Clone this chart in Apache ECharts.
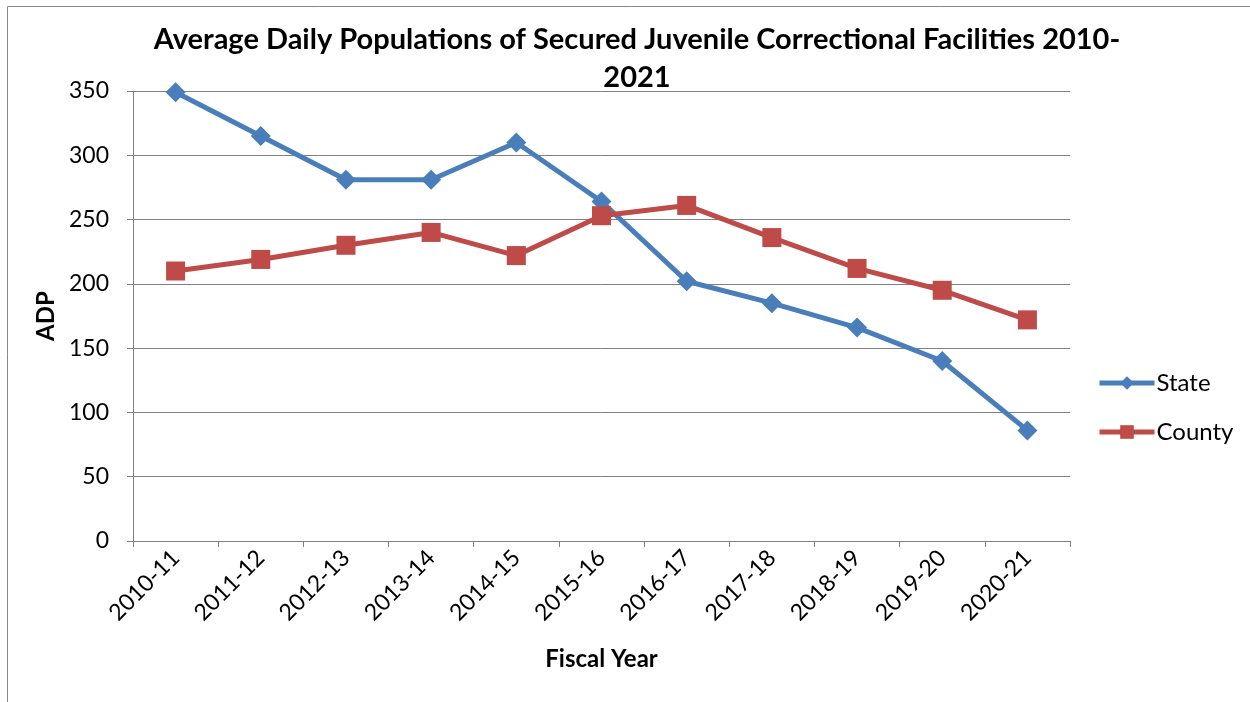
<!DOCTYPE html>
<html>
<head>
<meta charset="utf-8">
<script src="https://cdn.jsdelivr.net/npm/echarts@6/dist/echarts.min.js"></script>
<style>
html,body{margin:0;padding:0;background:#fff;}
#chart{width:1250px;height:702px;}
</style>
</head>
<body>
<div id="chart"></div>
<script>
const categories = ['2010-11','2011-12','2012-13','2013-14','2014-15','2015-16','2016-17','2017-18','2018-19','2019-20','2020-21'];
const stateValues = [349, 315, 281, 281, 310, 264, 202, 185, 166, 140, 86];
const countyValues = [210, 219, 230, 240, 222, 253, 261, 236, 212, 195, 172];
const yTicks = [0, 50, 100, 150, 200, 250, 300, 350];

const FONT = 'Lato';
const chart = echarts.init(document.getElementById('chart'));
chart.setOption({
  animation: false,
  backgroundColor: '#fff',
  textStyle: { fontFamily: FONT },
  graphic: [{
    type: 'rect', shape: { x: 7.5, y: 6.5, width: 1400, height: 900 },
    style: { fill: 'none', stroke: '#888', lineWidth: 1 }, silent: true
  }],
  title: {
    text: 'Average Daily Populations of Secured Juvenile Correctional Facilities 2010-\n2021',
    left: 632, top: 16, textAlign: 'center',
    textStyle: { fontFamily: FONT, fontWeight: 'bold', fontSize: 29, color: '#000', lineHeight: 38 }
  },
  legend: {
    orient: 'vertical', left: 1092, top: 366, itemGap: 25, itemWidth: 55, itemHeight: 17,
    lineStyle: { width: 5 },
    textStyle: { fontFamily: FONT, fontSize: 24, color: '#000', padding: [0,0,0,-3] },
    data: ['State', 'County']
  },
  grid: { left: 133, right: 180, top: 91, bottom: 161, containLabel: false },
  xAxis: {
    type: 'category', data: categories, boundaryGap: true,
    name: 'Fiscal Year', nameLocation: 'middle', nameGap: 106,
    nameTextStyle: { fontFamily: FONT, fontWeight: 'bold', fontSize: 24, color: '#000' },
    axisLine: { lineStyle: { color: '#808080', width: 1 } },
    axisTick: { show: true, alignWithLabel: false, length: 6, lineStyle: { color: '#808080' } },
    axisLabel: { rotate: 45, fontFamily: FONT, fontSize: 23, color: '#000', margin: 13, interval: 0 }
  },
  yAxis: {
    type: 'value', min: 0, max: 350, interval: 50,
    name: 'ADP', nameLocation: 'middle', nameGap: 75, nameRotate: 90,
    nameTextStyle: { fontFamily: FONT, fontWeight: 'bold', fontSize: 24, color: '#000' },
    axisLine: { show: true, lineStyle: { color: '#808080', width: 1 } },
    axisTick: { show: true, length: 6, lineStyle: { color: '#808080' } },
    axisLabel: { fontFamily: FONT, fontSize: 23, color: '#000', margin: 24,
      formatter: v => yTicks.includes(v) ? String(v) : '' },
    splitLine: { show: true, lineStyle: { color: '#808080', width: 1 } }
  },
  series: [
    {
      name: 'State', type: 'line', data: stateValues,
      symbol: 'diamond', symbolSize: 20,
      lineStyle: { color: '#4A7EBB', width: 5 },
      itemStyle: { color: '#4A7EBB' }
    },
    {
      name: 'County', type: 'line', data: countyValues,
      symbol: 'rect', symbolSize: 19,
      lineStyle: { color: '#BE4B48', width: 5 },
      itemStyle: { color: '#BE4B48' }
    }
  ]
});
</script>
</body>
</html>
